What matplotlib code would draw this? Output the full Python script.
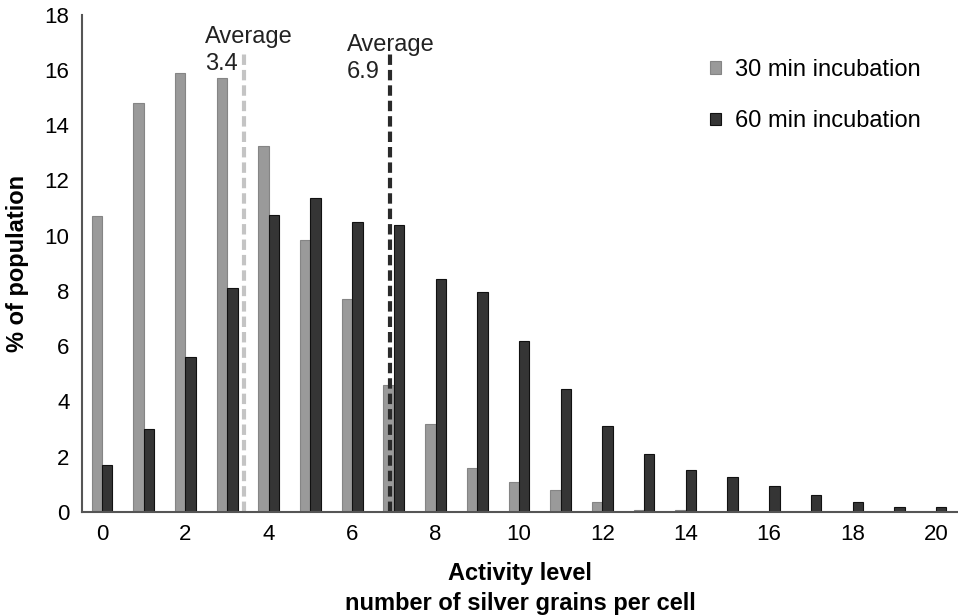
## Import Required Library
import matplotlib.pyplot as plt
import numpy as np

plt.rcParams["font.family"] = ["Liberation Sans", "DejaVu Sans"]

# Activity level (number of silver grains per cell)
grains = list(range(21))

# % of population for each incubation time
pct_30min = [10.7, 14.8, 15.9, 15.7, 13.25, 9.85, 7.7, 4.6, 3.2, 1.6, 1.1,
             0.78, 0.36, 0.08, 0.08, 0, 0, 0, 0, 0, 0]
pct_60min = [1.7, 3.0, 5.6, 8.1, 10.75, 11.35, 10.5, 10.4, 8.45, 7.95, 6.2,
             4.45, 3.1, 2.1, 1.52, 1.27, 0.94, 0.6, 0.36, 0.18, 0.18]

# Averages of each distribution
avg_30min = 3.4
avg_60min = 6.9

x = np.array(grains)

# Create Figure
fig = plt.figure(figsize=(9.58, 6.16), dpi=100)
ax = fig.add_axes([0.0856, 0.169, 0.9144, 0.807])

# Draw bars (grey to the left of the tick, dark to the right)
ax.bar(x, pct_30min, width=-0.25, align="edge", color="#9a9a9a",
       edgecolor="#858585", linewidth=0.8, label="30 min incubation")
ax.bar(x, pct_60min, width=0.25, align="edge", color="#353535",
       edgecolor="#111111", linewidth=0.8, label="60 min incubation")

# Average lines
ax.vlines(avg_30min, 0, 16.7, colors="#c4c4c4", linestyles=(0, (2.5, 1.2)),
          linewidth=3)
ax.vlines(avg_60min, 0, 16.6, colors="#2a2a2a", linestyles=(0, (2.5, 1.2)),
          linewidth=3)
ax.text(2.47, 17.6, "Average\n%.1f" % avg_30min, fontsize=17,
        va="top", ha="left", linespacing=1.3, color="#222222")
ax.text(5.88, 17.3, "Average\n%.1f" % avg_60min, fontsize=17,
        va="top", ha="left", linespacing=1.3, color="#222222")

# Axis limits and ticks
ax.set_xlim(-0.48, 20.53)
ax.set_ylim(0, 18)
ax.set_xticks(range(0, 21, 2))
ax.set_yticks(range(0, 19, 2))
ax.tick_params(axis="x", length=0, labelsize=16, pad=9)
ax.tick_params(axis="y", length=0, labelsize=16, pad=9)

# Spines
ax.spines["top"].set_visible(False)
ax.spines["right"].set_visible(False)
ax.spines["left"].set_color("#555555")
ax.spines["bottom"].set_color("#555555")
ax.spines["left"].set_linewidth(1.5)
ax.spines["bottom"].set_linewidth(1.5)

# Labels
ax.set_xlabel("Activity level\nnumber of silver grains per cell",
              fontsize=17, fontweight="bold", labelpad=12, linespacing=1.4)
ax.set_ylabel("% of population", fontsize=17, fontweight="bold", labelpad=11)

# Legend
ax.legend(loc="upper right", bbox_to_anchor=(0.971, 0.935), frameon=False,
          fontsize=17, handlelength=0.45, handleheight=0.45,
          labelspacing=1.25, handletextpad=0.6, borderpad=0)

# Save Chart
fig.savefig("out.png", dpi=100)
